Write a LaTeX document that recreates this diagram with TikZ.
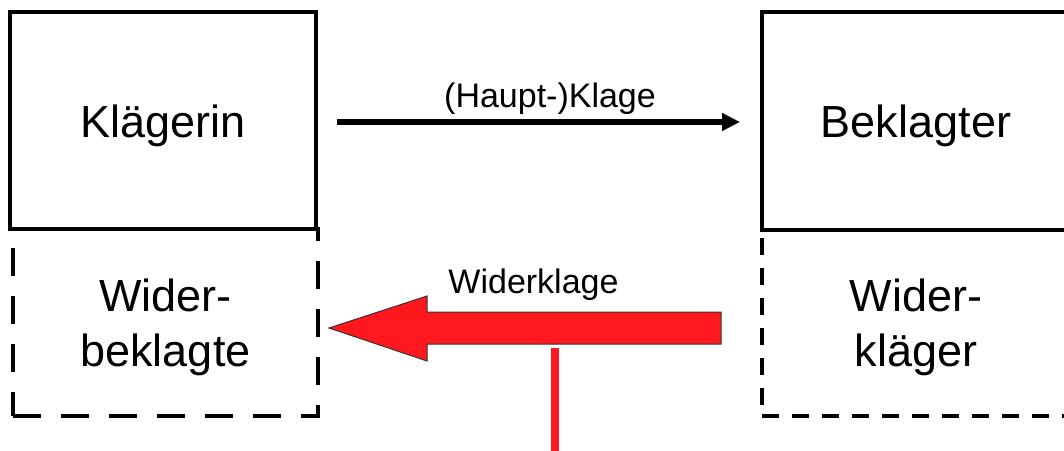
\documentclass[tikz,border=0pt]{standalone}
\usepackage{fontspec}
\setmainfont{Liberation Sans}
\usetikzlibrary{arrows.meta}
\definecolor{kred}{RGB}{255,24,30}
\newcommand{\lowered}[1]{\raisebox{-5pt}[\height][\depth]{#1}}
\newcommand{\twolines}[2]{\lowered{\begin{tabular}{@{}c@{}}#1\\#2\end{tabular}}}
\begin{document}
\begin{tikzpicture}[x=1pt,y=-1pt,
  partybox/.style={line width=4pt, inner sep=0pt, align=center,
    font=\fontsize{45}{55}\selectfont},
  solidbox/.style={partybox, draw},
  lbl/.style={font=\fontsize{34}{40}\selectfont, inner sep=0pt, anchor=base}]
\useasboundingbox (0,0) rectangle (1064,450);
% dashed lower boxes
\node[partybox, draw, dash pattern=on 28pt off 20pt, minimum width=305pt, minimum height=187pt]
  (wb) at (165.5,322.5) {\twolines{Wider-}{beklagte}};
\node[partybox, draw, dash pattern=on 17pt off 13pt, minimum width=308pt, minimum height=186pt]
  (wk) at (916,323) {\twolines{Wider-}{kläger}};
% solid upper boxes
\node[solidbox, minimum width=306pt, minimum height=217pt] (kl) at (163,120.5) {\lowered{Klägerin}};
\node[solidbox, minimum width=308pt, minimum height=218pt] (bk) at (916,121) {\lowered{Beklagter}};
% main claim
\coordinate (hs) at (337,122);
\coordinate (he) at (740,122);
\draw[line width=6pt, -{Triangle[length=18pt,width=17pt]}] (hs) -- (he);
\node[lbl] (hl) at (550,107) {(Haupt-)Klage};
% counterclaim block arrow
\coordinate (tip) at (329,328);
\draw[fill=kred, draw=black!80, line width=1pt]
  (721,312) -- (427,312) -- (427,296) -- (tip) -- (427,361) -- (427,344) -- (721,344) -- cycle;
\node[lbl] (wl) at (533.5,293) {Widerklage};
% red line
\coordinate (rtop) at (555,348);
\coordinate (rbot) at (555,452);
\draw[kred, line width=8pt] (rtop) -- (rbot);
\end{tikzpicture}
\end{document}
